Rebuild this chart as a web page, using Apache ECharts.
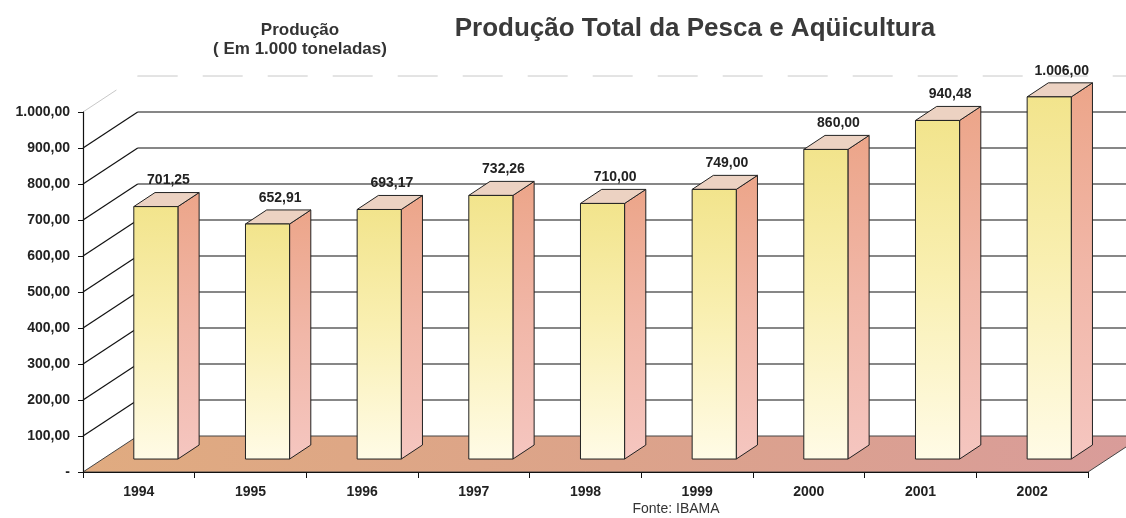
<!DOCTYPE html>
<html>
<head>
<meta charset="utf-8">
<title>Produção Total da Pesca e Aqüicultura</title>
<script src="https://cdn.jsdelivr.net/npm/echarts@6/dist/echarts.min.js"></script>
<style>
  html, body { margin: 0; padding: 0; background: #fff; }
  #chart { width: 1126px; height: 518px; }
</style>
</head>
<body>
<div id="chart"></div>
<script>
const years = ['1994', '1995', '1996', '1997', '1998', '1999', '2000', '2001', '2002'];
const production = [701.25, 652.91, 693.17, 732.26, 710.0, 749.0, 860.0, 940.48, 1006.0];
const yTicks = [0, 100, 200, 300, 400, 500, 600, 700, 800, 900, 1000];

const FONT = 'Arial, "Liberation Sans", sans-serif';
const TEXT_COLOR = '#222';

// 3d look: wall depth is half a category wide and one tick step high
const WALL_DX = 0.49;
const BAR_SHIFT_X = -0.045;
const BAR_WIDTH = 0.395;
const BAR_LIFT = 0.36;
const SIDE_DX = 0.19;
const SIDE_DY = 0.39;

const chart = echarts.init(document.getElementById('chart'));

function formatBR(value) {
  const [intPart, decPart] = value.toFixed(2).split('.');
  return intPart.replace(/\B(?=(\d{3})+(?!\d))/g, '.') + ',' + decPart;
}

function renderWall(params, api) {
  const value = api.value(1);
  const band = api.size([1, 0])[0];
  const step = api.size([0, yTicks[1]])[1];
  const left = api.coord([0, value])[0] - band / 2;
  const right = api.coord([years.length - 1, value])[0] + band / 2;
  const y = api.coord([0, value])[1];
  const dx = band * WALL_DX;
  const dy = -step;

  if (value === 0) {
    return {
      type: 'polygon',
      shape: { points: [[left, y], [right, y], [right + dx, y + dy], [left + dx, y + dy]] },
      style: {
        fill: new echarts.graphic.LinearGradient(0, 0, 1, 0, [
          { offset: 0, color: '#e0ab80' },
          { offset: 0.5, color: '#dca38a' },
          { offset: 1, color: '#d99c9a' },
        ]),
        stroke: '#444',
        lineWidth: 1,
      },
    };
  }

  const faint = value === yTicks[yTicks.length - 1];
  const lineStyle = faint
    ? { stroke: '#c8c8c8', lineWidth: 1, lineDash: [40, 25] }
    : { stroke: '#111', lineWidth: 1.2 };

  return {
    type: 'group',
    children: [
      {
        type: 'line',
        shape: { x1: left, y1: y, x2: left + dx, y2: y + dy },
        style: lineStyle,
      },
      {
        type: 'line',
        shape: { x1: left + dx, y1: y + dy, x2: right + dx, y2: y + dy },
        style: lineStyle,
      },
    ],
  };
}

function renderBar(params, api) {
  const idx = api.value(0);
  const value = api.value(1);
  const band = api.size([1, 0])[0];
  const step = api.size([0, yTicks[1]])[1];
  const base = api.coord([idx, 0]);
  const top = api.coord([idx, value]);

  const x0 = base[0] + band * BAR_SHIFT_X;
  const w = band * BAR_WIDTH;
  const yBot = base[1] - step * BAR_LIFT;
  const yTop = top[1] - step * BAR_LIFT;
  const sdx = band * SIDE_DX;
  const sdy = step * SIDE_DY;
  const outline = { stroke: '#222', lineWidth: 1 };

  return {
    type: 'group',
    children: [
      {
        type: 'polygon',
        shape: { points: [[x0 + w, yTop], [x0 + w + sdx, yTop - sdy], [x0 + w + sdx, yBot - sdy], [x0 + w, yBot]] },
        style: Object.assign({
          fill: new echarts.graphic.LinearGradient(0, 0, 0, 1, [
            { offset: 0, color: '#eca589' },
            { offset: 0.5, color: '#f1b7a8' },
            { offset: 1, color: '#f5c6c0' },
          ]),
        }, outline),
      },
      {
        type: 'polygon',
        shape: { points: [[x0, yTop], [x0 + sdx, yTop - sdy], [x0 + w + sdx, yTop - sdy], [x0 + w, yTop]] },
        style: Object.assign({ fill: '#ecd2c2' }, outline),
      },
      {
        type: 'rect',
        shape: { x: x0, y: yTop, width: w, height: yBot - yTop },
        style: Object.assign({
          fill: new echarts.graphic.LinearGradient(0, 0, 0, 1, [
            { offset: 0, color: '#f2e48c' },
            { offset: 0.45, color: '#f9efb0' },
            { offset: 1, color: '#fffbe6' },
          ]),
        }, outline),
      },
      {
        type: 'text',
        x: x0 + w / 2 + sdx / 2 + 2,
        y: yTop - sdy - 12,
        style: {
          text: formatBR(value),
          fill: TEXT_COLOR,
          font: 'bold 14px ' + FONT,
          textAlign: 'center',
          textVerticalAlign: 'middle',
        },
      },
    ],
  };
}

const option = {
  backgroundColor: '#fff',
  animation: false,
  textStyle: { fontFamily: FONT },
  graphic: [
    {
      type: 'text',
      x: 695,
      y: 29,
      style: {
        text: 'Produção Total da Pesca e Aqüicultura',
        font: 'bold 26px ' + FONT,
        fill: '#3a3a3a',
        textAlign: 'center',
        textVerticalAlign: 'middle',
      },
    },
    {
      type: 'text',
      x: 300,
      y: 30,
      style: {
        text: 'Produção',
        font: 'bold 17px ' + FONT,
        fill: '#333',
        textAlign: 'center',
        textVerticalAlign: 'middle',
      },
    },
    {
      type: 'text',
      x: 300,
      y: 49,
      style: {
        text: '( Em 1.000 toneladas)',
        font: 'bold 17px ' + FONT,
        fill: '#333',
        textAlign: 'center',
        textVerticalAlign: 'middle',
      },
    },
    {
      type: 'text',
      x: 676,
      y: 509,
      style: {
        text: 'Fonte: IBAMA',
        font: '14px ' + FONT,
        fill: '#333',
        textAlign: 'center',
        textVerticalAlign: 'middle',
      },
    },
  ],
  grid: { left: 83, right: 38, top: 112, bottom: 46 },
  xAxis: {
    type: 'category',
    data: years,
    z: 5,
    axisLine: { lineStyle: { color: '#111', width: 1.2 } },
    axisTick: { show: true, length: 6, lineStyle: { color: '#111' } },
    axisLabel: { color: TEXT_COLOR, fontWeight: 'bold', fontSize: 14, margin: 13 },
    splitLine: { show: false },
  },
  yAxis: {
    type: 'value',
    min: 0,
    max: 1000,
    interval: 100,
    z: 5,
    axisLine: { show: true, lineStyle: { color: '#111', width: 1.2 } },
    axisTick: { show: true, length: 5, lineStyle: { color: '#111' } },
    axisLabel: {
      color: TEXT_COLOR,
      fontWeight: 'bold',
      fontSize: 14,
      margin: 13,
      formatter: (v) => (v === 0 ? '-' : formatBR(v)),
    },
    splitLine: { show: false },
  },
  series: [
    {
      type: 'custom',
      name: 'parede',
      z: 1,
      clip: false,
      silent: true,
      renderItem: renderWall,
      data: yTicks.map((v) => [0, v]),
    },
    {
      type: 'custom',
      name: 'Produção',
      z: 3,
      clip: false,
      renderItem: renderBar,
      data: production.map((v, i) => [i, v]),
    },
  ],
};

chart.setOption(option);
</script>
</body>
</html>
